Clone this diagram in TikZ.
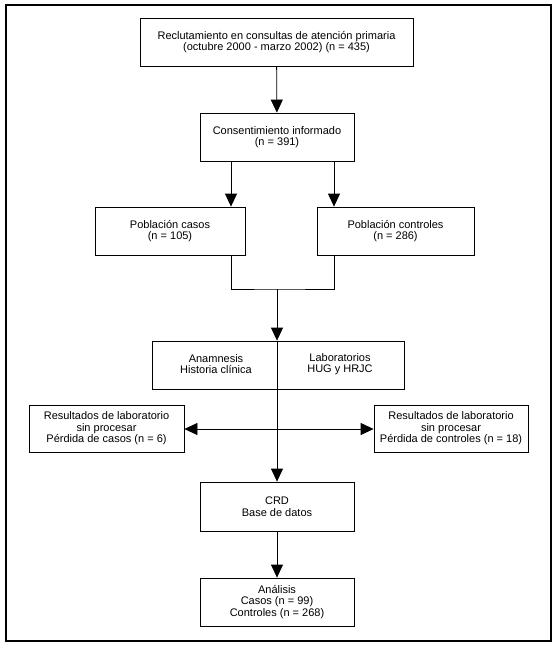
\documentclass[tikz,border=0pt]{standalone}
\usepackage{fontspec}
\setmainfont{Liberation Sans}
\usetikzlibrary{arrows.meta}
\begin{document}
\begin{tikzpicture}[x=1pt,y=-1pt,
  txt/.style={font=\fontsize{11}{11.6}\selectfont,align=center,inner sep=0pt},
  box/.style={draw,line width=0.8pt,rectangle,txt},
  conn/.style={line width=0.8pt},
  arr/.style={conn,-{Triangle[width=12pt,length=13pt]}},
  darr/.style={conn,{Triangle[width=12pt,length=13pt]}-{Triangle[width=12pt,length=13pt]}}]
\useasboundingbox (0,0) rectangle (557,648);
\draw[line width=2pt] (6,5) rectangle (551,641);
\node[box,minimum width=273pt,minimum height=48pt] (rec) at (276.5,42) {Reclutamiento en consultas de atención primaria\\(octubre 2000 - marzo 2002) (n = 435)};
\node[box,minimum width=154pt,minimum height=48pt] (con) at (277,137) {Consentimiento informado\\(n = 391)};
\node[box,minimum width=150pt,minimum height=48pt] (cas) at (170,231) {Población casos\\(n = 105)};
\node[box,minimum width=157pt,minimum height=48pt] (ctl) at (395.5,231) {Población controles\\(n = 286)};
\node[box,minimum width=252pt,minimum height=48pt] (ana) at (278,365) {};
\node[txt] (anat) at (216,364) {Anamnesis\\Historia clínica};
\node[txt] (labt) at (340,364) {Laboratorios\\HUG y HRJC};
\node[box,minimum width=155pt,minimum height=47pt] (lft) at (106.5,428.5) {Resultados de laboratorio\\sin procesar\\Pérdida de casos (n = 6)};
\node[box,minimum width=154pt,minimum height=47pt] (rgt) at (451,428.5) {Resultados de laboratorio\\sin procesar\\Pérdida de controles (n = 18)};
\node[box,minimum width=154pt,minimum height=49pt] (crd) at (277,506.5) {CRD\\Base de datos};
\node[box,minimum width=154pt,minimum height=48pt] (anl) at (277,602) {Análisis\\Casos (n = 99)\\Controles (n = 268)};
\coordinate (j) at (277,289);
\coordinate (h) at (277,429);
\draw[arr] (rec) -- (con);
\draw[arr] (con.south -| 231,0) -- (cas.north -| 231,0);
\draw[arr] (con.south -| 334,0) -- (ctl.north -| 334,0);
\draw[conn] (cas.south -| 231,0) |- (j) -| (ctl.south -| 334,0);
\draw[arr] (j) -- (ana.north -| j);
\draw[conn] (ana.north -| j) -- (ana.south -| j);
\draw[arr] (ana.south -| j) -- (crd);
\draw[darr] (lft.east |- h) -- (rgt.west |- h);
\draw[arr] (crd) -- (anl);
\end{tikzpicture}
\end{document}
